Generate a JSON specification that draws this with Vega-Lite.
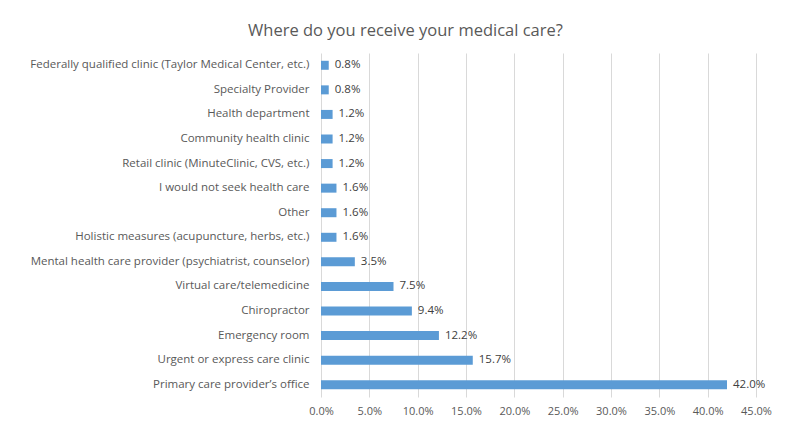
{
  "$schema": "https://vega.github.io/schema/vega-lite/v6.json",
  "width": 435,
  "height": 344,
  "autosize": {"type": "none"},
  "padding": {"left": 321, "top": 53, "right": 31, "bottom": 28},
  "background": "white",
  "title": {
    "text": "Where do you receive your medical care?",
    "fontSize": 16.5,
    "font": "Open Sans",
    "fontWeight": "normal",
    "color": "#595959",
    "anchor": "middle",
    "dx": -133,
    "offset": 14
  },
  "data": {
    "values": [
      {"source": "Federally qualified clinic (Taylor Medical Center, etc.)", "share": 0.008},
      {"source": "Specialty Provider", "share": 0.008},
      {"source": "Health department", "share": 0.012},
      {"source": "Community health clinic", "share": 0.012},
      {"source": "Retail clinic (MinuteClinic, CVS, etc.)", "share": 0.012},
      {"source": "I would not seek health care", "share": 0.016},
      {"source": "Other", "share": 0.016},
      {"source": "Holistic measures (acupuncture, herbs, etc.)", "share": 0.016},
      {"source": "Mental health care provider (psychiatrist, counselor)", "share": 0.035},
      {"source": "Virtual care/telemedicine", "share": 0.075},
      {"source": "Chiropractor", "share": 0.094},
      {"source": "Emergency room", "share": 0.122},
      {"source": "Urgent or express care clinic", "share": 0.157},
      {"source": "Primary care provider’s office", "share": 0.42}
    ]
  },
  "config": {
    "view": {"stroke": null},
    "font": "Open Sans"
  },
  "encoding": {
    "y": {
      "field": "source",
      "type": "nominal",
      "sort": null,
      "title": null,
      "axis": {
        "domain": false,
        "ticks": false,
        "labelPadding": 12,
        "labelFontSize": 11.5,
        "labelColor": "#595959",
        "labelFont": "Open Sans",
        "labelLimit": 400
      }
    },
    "x": {
      "field": "share",
      "type": "quantitative",
      "scale": {"domain": [0, 0.45]},
      "title": null,
      "axis": {
        "format": ".1%",
        "values": [0, 0.05, 0.1, 0.15, 0.2, 0.25, 0.3, 0.35, 0.4, 0.45],
        "domain": false,
        "ticks": false,
        "labelFlush": false,
        "labelBound": false,
        "labelOverlap": false,
        "labelPadding": 8,
        "labelFontSize": 11,
        "labelColor": "#595959",
        "labelFont": "Open Sans",
        "gridColor": "#d9d9d9",
        "gridWidth": 1
      }
    }
  },
  "layer": [
    {"mark": {"type": "bar", "color": "#5b9bd5", "size": 9}},
    {
      "mark": {"type": "text", "align": "left", "dx": 6, "fontSize": 11.5, "color": "#404040", "font": "Open Sans"},
      "encoding": {"text": {"field": "share", "format": ".1%"}}
    }
  ]
}
